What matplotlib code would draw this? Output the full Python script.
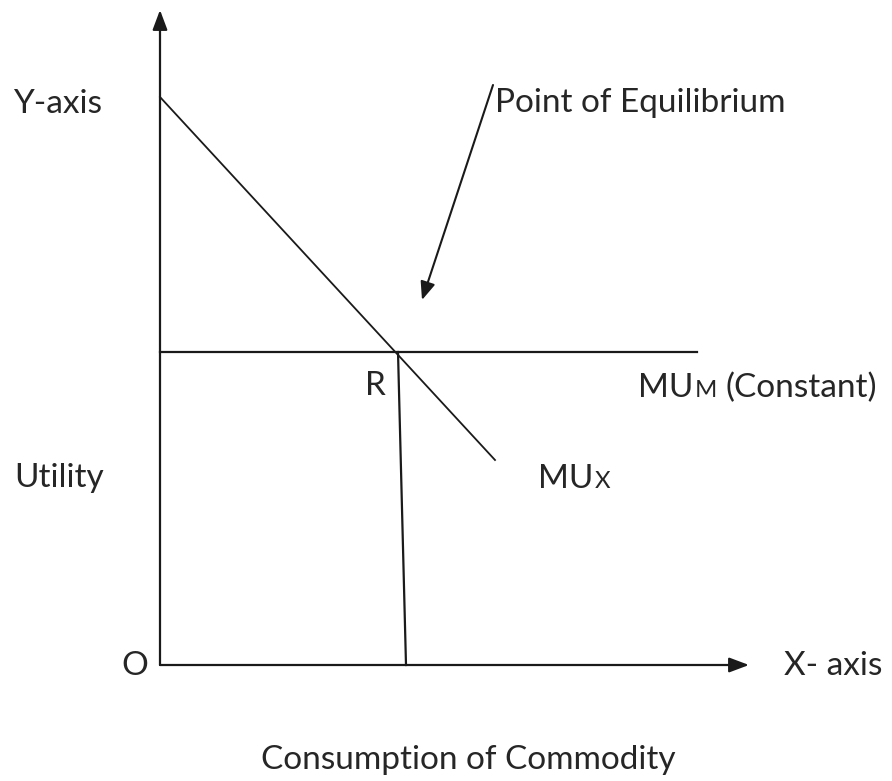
import matplotlib
matplotlib.use("Agg")
import matplotlib.pyplot as plt

W, H = 892, 781
FONT = "Lato"
FS = 24
TXT = "#262626"

# Diagram geometry (pixel space of the reference image)
origin = (160, 665)
y_axis_top = (160, 10)
x_axis_end = (749, 665)
mux_line_x = [160, 495]
mux_line_y = [97, 460]
mum_line_x = [160, 697]
mum_line_y = [352, 352]
drop_line_x = [398, 406]
drop_line_y = [352, 665]
eq_arrow_start = (493, 85)
eq_arrow_end = (422, 300)

# label text: (x, baseline y)
labels = {
    "Y-axis": (13, 113),
    "Point of Equilibrium": (495, 112),
    "R": (365, 395),
    "Utility": (14, 487),
    "O": (121, 675),
    "X- axis": (784, 675),
}

fig = plt.figure(figsize=(W / 100, H / 100), dpi=100)
ax = fig.add_axes([0, 0, 1, 1])
ax.set_xlim(0, W)
ax.set_ylim(H, 0)
ax.axis("off")

col = "#1a1a1a"
ax.annotate("", xy=y_axis_top, xytext=origin,
            arrowprops=dict(arrowstyle="-|>,head_length=1.2,head_width=0.45", color=col, lw=1.6, shrinkA=0, shrinkB=0))
ax.annotate("", xy=x_axis_end, xytext=origin,
            arrowprops=dict(arrowstyle="-|>,head_length=1.2,head_width=0.45", color=col, lw=1.6, shrinkA=0, shrinkB=0))
ax.plot(mux_line_x, mux_line_y, color=col, lw=1.3)
ax.plot(mum_line_x, mum_line_y, color=col, lw=1.6)
ax.plot(drop_line_x, drop_line_y, color=col, lw=1.6)
ax.annotate("", xy=eq_arrow_end, xytext=eq_arrow_start,
            arrowprops=dict(arrowstyle="-|>,head_length=1.1,head_width=0.45", color=col, lw=1.5, shrinkA=0, shrinkB=0))

for t, (x, y) in labels.items():
    ax.text(x, y, t, fontsize=FS, family=FONT, color=TXT, va="baseline", ha="left")

ax.text(468, 769, "Consumption of Commodity", fontsize=FS, family=FONT, color=TXT, va="baseline", ha="center")

# Labels with small-caps subscripts
fig.canvas.draw()
r = fig.canvas.get_renderer()

def sub_label(x, y, main, sub, rest="", gap=2):
    t1 = ax.text(x, y, main, fontsize=FS, family=FONT, color=TXT, va="baseline", ha="left")
    bb = t1.get_window_extent(r)
    x2 = ax.transData.inverted().transform((bb.x1, 0))[0]
    t2 = ax.text(x2 + 1, y, sub, fontsize=FS * 0.72, family=FONT, color=TXT, va="baseline", ha="left")
    if rest:
        bb2 = t2.get_window_extent(r)
        x3 = ax.transData.inverted().transform((bb2.x1, 0))[0]
        ax.text(x3 + gap, y, rest, fontsize=FS, family=FONT, color=TXT, va="baseline", ha="left")

sub_label(638, 397, "MU", "M", "(Constant)", gap=9)
sub_label(538, 488, "MU", "X")

fig.savefig("out.png", dpi=100, facecolor="white")
